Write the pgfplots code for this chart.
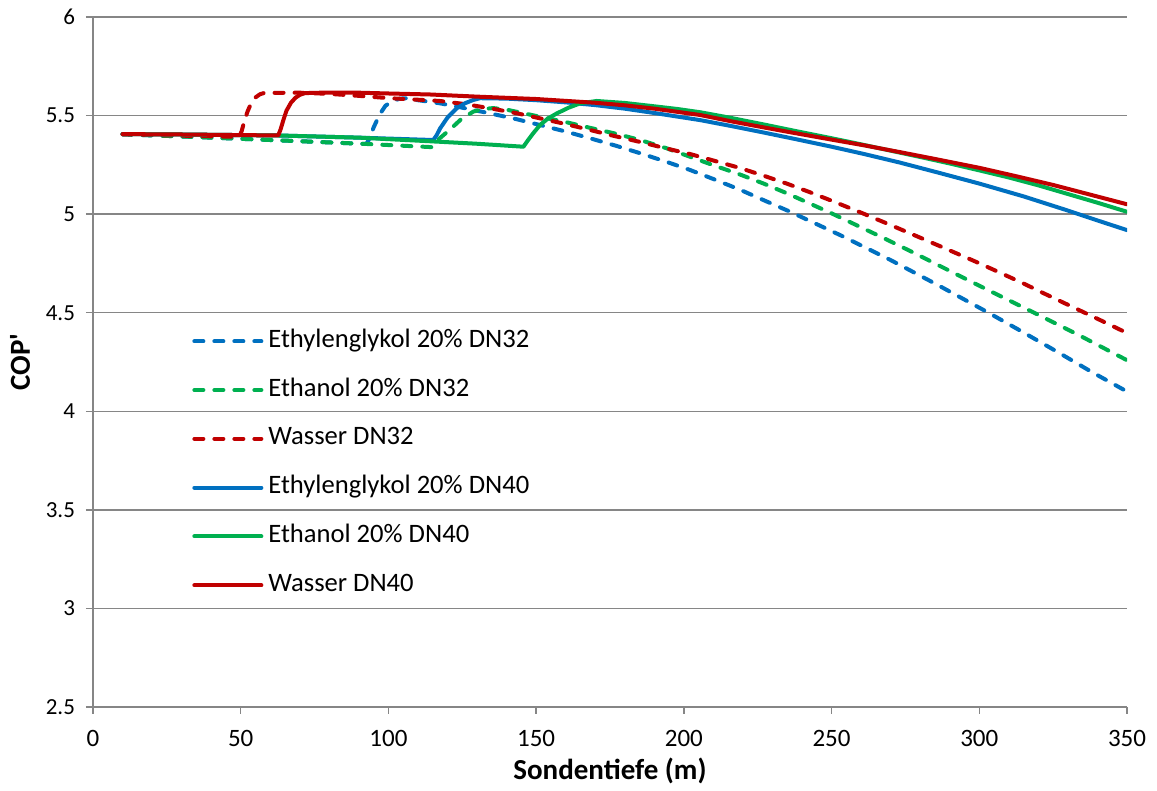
\documentclass[border=0pt]{standalone}
\usepackage{fontspec}
\setmainfont{Carlito}[Ligatures=TeXOff]
\usepackage{pgfplots}
\pgfplotsset{compat=1.18}
\definecolor{cblue}{RGB}{0,112,192}
\definecolor{cgreen}{RGB}{0,176,80}
\definecolor{cred}{RGB}{192,0,0}
\definecolor{gridgray}{RGB}{134,134,134}
\begin{document}
\begin{tikzpicture}
\begin{axis}[name=ax, width=517pt, height=345pt, scale only axis,
  xmin=0, xmax=350, ymin=2.5, ymax=6,
  xtick={0,50,100,150,200,250,300,350},
  ytick={2.5,3,3.5,4,4.5,5,5.5,6},
  axis x line*=bottom, axis y line*=left,
  axis line style={draw=gridgray, line width=0.75pt, -},
  ymajorgrids, major grid style={draw=gridgray, line width=0.75pt},
  tick style={draw=gridgray, line width=0.75pt},
  major tick length=3.5pt, tick align=outside,
  /pgf/number format/assume math mode=true,
  xticklabel style={font=\fontsize{12.5}{14}\selectfont, yshift=-4.5pt},
  yticklabel style={font=\fontsize{11.5}{13}\selectfont, xshift=-2pt},
  xlabel={Sondentiefe (m)}, ylabel={COP'},
  every axis x label/.style={at={(axis description cs:0.5,0)}, yshift=-32pt, anchor=center, font=\fontsize{14.5}{16}\selectfont\bfseries},
  every axis y label/.style={at={(axis description cs:0,0.5)}, xshift=-36.5pt, rotate=90, anchor=center, font=\fontsize{14.5}{16}\selectfont\bfseries},
  legend cell align=left,
  legend image code/.code={\draw[#1] (0pt,0pt) -- (33.5pt,0pt);},
  legend style={at={(axis description cs:0.0957,0.548)}, anchor=north west, draw=none, fill=none,
    inner sep=0pt, font=\fontsize{13.3}{15}\selectfont, row sep=12.4pt,
    nodes={inner sep=0pt, text height=9pt, text depth=3pt},
    /tikz/every odd column/.append style={column sep=2.5pt}},
  dsh/.style={line width=2pt, line cap=round, line join=round, dash pattern=on 4.5pt off 5.5pt},
  sld/.style={line width=2pt, line cap=round, line join=round},
]
% Ethylenglykol 20% DN32
\addplot[cblue, dsh] coordinates {
(10,5.405) (30,5.394) (50,5.382) (70,5.370) (92.5,5.356) (93.5,5.38) (95,5.44) (97,5.505) (99,5.55) (101.5,5.575) (104,5.586) (106,5.588) (110,5.578) (117.5,5.562) (125,5.54) (134.4,5.511) (143,5.483) (151.3,5.452) (160,5.419) (168.2,5.385) (177,5.347) (185.2,5.309) (194,5.266) (202.1,5.224) (210,5.178) (219,5.124) (227,5.071) (236,5.012) (253,4.893) (270,4.767) (286,4.640) (302.5,4.505) (314,4.408) (326,4.305) (338,4.200) (350,4.100)};
\addlegendentry{Ethylenglykol 20\% DN32}
% Ethanol 20% DN32
\addplot[cgreen, dsh] coordinates {
(10,5.405) (30,5.394) (50,5.382) (70,5.370) (92.5,5.356) (114.5,5.340) (115.5,5.355) (117,5.38) (120.9,5.43) (124.5,5.48) (128.7,5.52) (132,5.533) (135.5,5.538) (140,5.53) (151.3,5.494) (160,5.467) (168.2,5.438) (177,5.408) (185.2,5.376) (194,5.335) (202.1,5.291) (210,5.248) (219,5.201) (227,5.155) (235,5.105) (242,5.058) (250,5.004) (259,4.940) (268,4.876) (277,4.810) (286.7,4.737) (302,4.622) (318.3,4.502) (334,4.384) (350,4.259)};
\addlegendentry{Ethanol 20\% DN32}
% Wasser DN32
\addplot[cred, dsh] coordinates {
(10,5.405) (30,5.398) (49.5,5.392) (50.3,5.42) (51.2,5.47) (52.3,5.52) (53.5,5.562) (55,5.592) (56.5,5.608) (58,5.615) (70,5.616) (80,5.610) (90,5.60) (100.5,5.588) (108,5.582) (117.5,5.574) (126,5.558) (134.4,5.537) (143,5.513) (151.3,5.486) (160,5.457) (168.2,5.427) (176,5.398) (185.2,5.366) (193,5.337) (202.1,5.305) (210,5.272) (219,5.234) (227,5.195) (235,5.154) (242,5.115) (250,5.068) (259.6,5.010) (269,4.951) (279,4.887) (288,4.829) (298,4.764) (306,4.710) (315,4.648) (323,4.590) (332,4.526) (341,4.462) (350,4.397)};
\addlegendentry{Wasser DN32}
% Ethylenglykol 20% DN40
\addplot[cblue, sld] coordinates {
(10,5.406) (30,5.404) (50,5.401) (62.7,5.399) (90,5.388) (115.2,5.376) (116.3,5.40) (117.5,5.435) (120,5.49) (123.1,5.537) (126,5.563) (128.7,5.579) (131,5.588) (140,5.586) (150,5.578) (160,5.567) (170,5.553) (180,5.535) (190,5.513) (205.5,5.477) (216,5.447) (227,5.414) (238,5.380) (250,5.342) (261,5.305) (273,5.262) (286,5.211) (300,5.155) (315,5.090) (329.6,5.020) (340,4.968) (350,4.919)};
\addlegendentry{Ethylenglykol 20\% DN40}
% Ethanol 20% DN40
\addplot[cgreen, sld] coordinates {
(10,5.406) (30,5.404) (50,5.401) (62.7,5.399) (90,5.388) (117.5,5.367) (130,5.357) (145.7,5.342) (147,5.37) (149,5.41) (151.3,5.452) (154,5.485) (157,5.511) (161,5.54) (164.9,5.562) (170.5,5.574) (180,5.564) (190,5.547) (198,5.533) (205.5,5.517) (216,5.488) (227,5.455) (238,5.421) (250,5.385) (260,5.354) (270,5.322) (280,5.290) (290,5.257) (300,5.222) (310,5.186) (320,5.146) (330,5.102) (340,5.058) (350,5.012)};
\addlegendentry{Ethanol 20\% DN40}
% Wasser DN40
\addplot[cred, sld] coordinates {
(10,5.406) (30,5.404) (50,5.401) (62.7,5.399) (63.5,5.43) (64.5,5.48) (65.5,5.525) (67,5.565) (68.5,5.59) (70,5.605) (71.8,5.614) (80,5.617) (90,5.616) (100,5.612) (114,5.607) (130,5.596) (150,5.584) (170,5.565) (180,5.552) (190,5.535) (205.5,5.503) (216,5.471) (227,5.440) (238,5.410) (250,5.378) (261,5.349) (273,5.315) (286,5.277) (300,5.235) (312,5.194) (325,5.148) (337,5.101) (350,5.050)};
\addlegendentry{Wasser DN40}
\end{axis}
\pgfresetboundingbox
\path ([xshift=-46.5pt,yshift=-42pt]ax.south west) rectangle ([xshift=15pt,yshift=8.5pt]ax.north east);
\end{tikzpicture}
\end{document}
